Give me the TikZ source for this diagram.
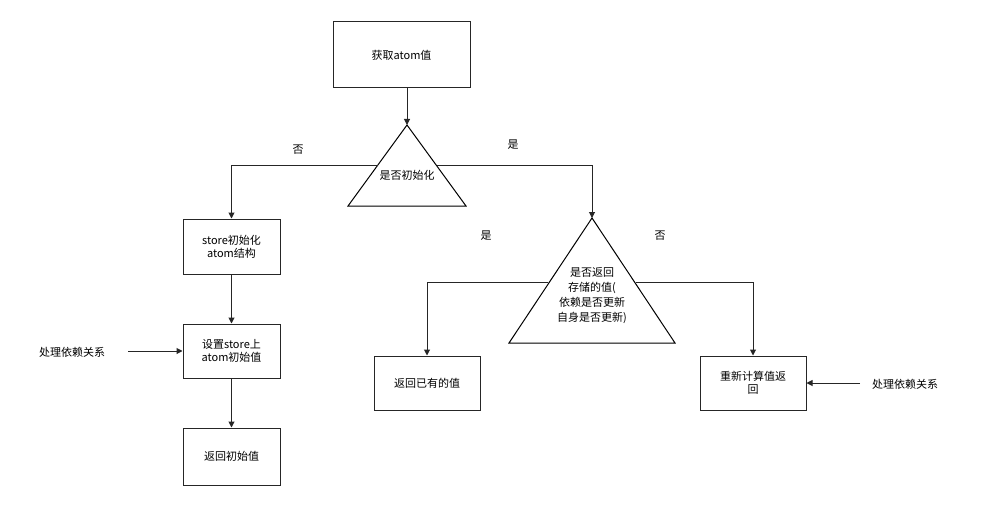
\documentclass[tikz,border=0pt]{standalone}
\usepackage{fontspec}
\setmainfont{Noto Sans CJK SC}
\usetikzlibrary{arrows.meta}
\begin{document}
\begin{tikzpicture}[x=1pt,y=-1pt,
  box/.style={draw=black!85,line width=1pt,fill=white,font=\fontsize{11}{13}\selectfont,align=center,inner sep=0pt},
  lbl/.style={font=\fontsize{11}{13}\selectfont,align=center},
  arr/.style={draw=black!85,line width=1pt,-{Triangle[length=6pt,width=6pt]}},
  ln/.style={draw=black!85,line width=1pt}]
\useasboundingbox (0,0) rectangle (987,508);
\node[box,minimum width=137pt,minimum height=66pt] (get) at (401.5,55) {获取atom值};
\draw[line width=1pt,fill=white] (407,125) -- (466,206) -- (348,206) -- cycle;
\coordinate (t1) at (407,125);
\node[lbl] (q1) at (407,175) {是否初始化};
\draw[arr] (get.south -| t1) -- (t1);
\node[box,minimum width=97pt,minimum height=55pt] (init) at (231.5,246.5) {store初始化\\atom结构};
\node[box,minimum width=97pt,minimum height=54pt] (set) at (231.5,351) {设置store上\\atom初始值};
\node[box,minimum width=97pt,minimum height=57pt] (ret) at (231.5,456.5) {返回初始值};
\coordinate (l1) at (378,165);
\coordinate (r1) at (437,165);
\draw[arr] (l1) -| (init.north);
\node[lbl] at (298,150) {否};
\draw[line width=1pt,fill=white] (592,218) -- (675,343) -- (509,343) -- cycle;
\coordinate (t2) at (592,218);
\draw[arr] (r1) -| (t2);
\node[lbl] at (513,145) {是};
\node[lbl,font=\fontsize{11}{15}\selectfont] (q2) at (592,296) {是否返回\\存储的值(\\依赖是否更新\\自身是否更新)};
\draw[arr] (init) -- (set);
\draw[arr] (set) -- (ret);
\node[lbl] (dep1) at (72,352) {处理依赖关系};
\coordinate (d1) at (128,351);
\draw[arr] (d1) -- (set.west);
\node[box,minimum width=106pt,minimum height=54pt] (have) at (427,383) {返回已有的值};
\node[box,minimum width=106pt,minimum height=54pt] (calc) at (753,383) {重新计算值返\\回};
\coordinate (l2) at (548,282);
\coordinate (r2) at (636,282);
\draw[arr] (l2) -| (have.north);
\draw[arr] (r2) -| (calc.north);
\node[lbl] at (486,236) {是};
\node[lbl] at (660,236) {否};
\node[lbl] (dep2) at (905,384) {处理依赖关系};
\coordinate (d2) at (860,383);
\draw[arr] (d2) -- (calc.east);
\end{tikzpicture}
\end{document}
